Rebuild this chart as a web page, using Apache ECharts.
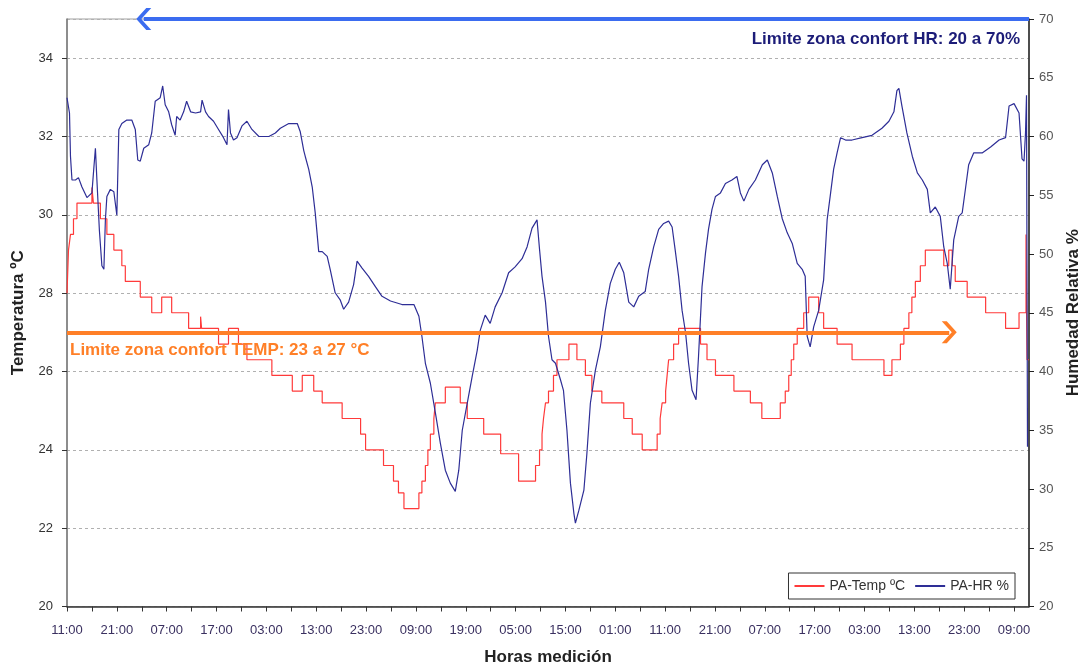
<!DOCTYPE html>
<html>
<head>
<meta charset="utf-8">
<title>PA - Temperatura y Humedad</title>
<script src="https://cdn.jsdelivr.net/npm/echarts@6/dist/echarts.min.js"></script>
<style>
  html, body { margin: 0; padding: 0; background: #fff; }
  #chart { width: 1082px; height: 666px; }
</style>
</head>
<body>
<div id="chart"></div>
<script>
// Hours elapsed since the first reading (11:00); a label every 10 h
const xLabels = ['11:00','21:00','07:00','17:00','03:00','13:00','23:00','09:00','19:00','05:00',
                 '15:00','01:00','11:00','21:00','07:00','17:00','03:00','13:00','23:00','09:00'];
const hoursTotal = 193;

// Temperature (ºC): logger steps, each value holds until the next change
const tempHours = [0,0.3,0.7,1.3,2,5,5.3,6.7,8,9.4,11,11.7,14.7,17,19,21,24.4,26.8,27,30.4,32.4,34.4,36.1,41.1,45.2,
  47.2,49.5,51.2,55.2,58.9,59.9,63.5,65.5,66.5,67.6,70.6,71.2,71.9,72.4,72.9,73.6,73.9,75.9,78.9,80.3,83.6,87,90.6,
  94,94.8,95.3,95.6,96,96.6,97.6,98.3,100.7,102.3,104,105.3,107.3,111.7,113.4,115.4,118.4,119,119.4,120.1,120.4,120.7,
  121.7,122.7,127.1,128.4,130.1,133.8,137.1,139.4,143.1,144.1,144.8,145.3,145.8,146.5,147.8,148.8,150.8,151.8,154.5,
  157.5,163.9,165.5,167.2,167.9,168.9,169.5,170.2,171.2,172.2,175.9,176.9,177.6,178.2,180.6,184.3,188.3,191,192.4,192.6,193];
const tempValues = [28.0,29.1,29.5,29.9,30.3,30.7,30.3,29.9,29.5,29.1,28.7,28.3,27.9,27.5,27.9,27.5,27.1,27.4,27.1,26.7,27.1,26.7,26.3,25.9,25.5,
  25.9,25.5,25.2,24.8,24.4,24.0,23.6,23.2,22.9,22.5,22.9,23.2,23.6,24.0,24.4,24.8,25.2,25.6,25.2,24.8,24.4,23.9,23.2,
  23.6,24.0,24.4,24.8,25.2,25.5,25.9,26.3,26.7,26.3,25.9,25.5,25.2,24.8,24.4,24.0,24.4,24.8,25.2,25.5,25.9,26.3,
  26.7,27.1,26.7,26.3,25.9,25.5,25.2,24.8,25.2,25.5,25.9,26.3,26.7,27.1,27.5,27.9,27.5,27.1,26.7,
  26.3,25.9,26.3,26.7,27.1,27.5,27.9,28.3,28.7,29.1,28.7,29.1,28.7,28.3,27.9,27.5,27.1,27.5,29.5,26.3,26.3];

// Relative humidity (%)
const hrHours = [0,0.5,0.7,1,1.7,2.3,3,4,5,5.4,5.7,6,6.5,7,7.4,7.7,8,8.7,9.4,9.7,10,10.4,11,12,13,13.7,14.2,14.7,15.4,16.4,
  17,17.7,18.7,19.2,19.7,20.4,21,21.7,22,22.7,23.4,24,24.8,25.8,26.8,27.1,27.8,28.4,29.4,30.4,31.4,32.1,32.4,32.8,33.4,
  34.1,35.1,36.1,37.1,38.5,40.5,41.8,42.8,44.5,46.2,46.8,47.5,47.8,48.5,49.2,49.8,50.5,51.2,52.2,52.8,53.8,54.8,55.5,
  56.5,57.5,58.2,59.2,60.5,61.9,63.2,64.9,67.2,69.6,70.6,71.2,71.9,72.9,73.9,74.9,75.9,76.9,77.9,78.6,79.3,80.3,81.3,
  82.3,82.9,83.9,84.9,85.9,87.3,88.6,89.9,91.3,92.3,93.3,94.3,94.8,95.3,96,96.6,97.3,98,99,99.6,100.3,101,101.7,102,
  102.7,103.7,104.3,105,106,107,108,109,110,110.8,111.7,112.7,113.7,114.7,116,116.7,117.7,118.7,119.7,120.7,121.4,122,
  122.7,123.4,124.1,124.7,125.4,126.2,126.7,127.4,128.1,128.7,129.4,130.1,131.1,132.1,133.4,134.4,135.1,135.8,136.8,
  138.1,139.5,140.5,141.5,142.5,143.5,144.5,145.5,146.5,147.5,148.1,148.5,149.1,149.8,150.8,151.8,152.5,153.2,153.8,
  154.5,155.2,156.2,157.5,159.5,161.5,163.5,164.9,165.9,166.5,166.9,167.5,168.5,169.6,170.6,171.6,172.6,173.2,174.2,
  175.2,175.9,176.6,177.2,177.9,178.9,179.6,180.3,180.9,181.9,183.6,185.3,187,188.3,189,190,191,191.6,192,192.3,192.5,192.7];
const hrValues = [63.3,62,58.3,56.3,56.3,56.5,55.7,54.8,55.2,57.4,59,56.3,52,49,48.7,52.9,54.9,55.5,55.3,54.3,53.3,60.6,61.1,61.4,61.4,60.6,58,57.9,59,59.3,
  60.3,63,63.3,64.3,62.7,62.1,61,60.1,61.7,61.4,62.1,63,62.1,62,62.1,63.1,62.1,61.7,61.3,60.6,59.9,59.3,62.3,60.3,59.7,
  59.9,60.9,61.3,60.6,60,60,60.3,60.7,61.1,61.1,60.4,58.8,58.3,57.2,55.7,53.5,50.2,50.2,49.8,48.7,46.7,46.1,45.3,
  45.9,47.4,49.4,48.8,48.1,47.2,46.4,46,45.7,45.7,44.7,43,40.7,39,36.5,33.9,31.6,30.5,29.8,31.6,35,37.3,39.6,
  41.8,43.5,44.8,44.1,45.5,46.7,48.4,48.9,49.6,50.6,52.2,52.9,50.4,48.1,45.9,43,41,40.7,39.3,38.4,35,30.5,27.9,27.1,
  28.2,29.9,33,37.3,40.1,42.1,45.2,47.5,48.7,49.3,48.4,45.9,45.5,46.4,46.8,48.7,50.6,52.1,52.6,52.8,52.3,50.4,
  48.1,45.2,43.3,40.7,38.4,37.6,41.3,47.2,50.1,52.1,53.8,54.9,55.2,56,56.3,56.6,55.2,54.5,55.5,
  56.3,57.6,58,56.9,54.9,53,51.8,50.9,49.2,48.7,48.1,43,42.1,43.8,45.2,47.8,52.9,55.2,57.2,
  58.6,59.9,59.7,59.7,59.9,60.1,60.7,61.3,62.1,63.9,64.1,62.6,60.3,58.3,56.9,56.3,55.5,53.5,54,
  53.2,50.6,49.2,47,51.2,53.2,53.5,55.7,57.6,58.6,58.6,59.1,59.7,59.9,62.6,62.8,62,58.1,57.9,60.3,63.5,33.6];

// Comfort limits and the span of each limit arrow (hours)
const hrComfortMax = 70;
const tempComfortMax = 27;
const hrArrowSpan = [15.4, 193];
const tempArrowSpan = [0, 177];

const zip = (xs, ys) => xs.map((x, i) => [x, ys[i]]);
// open arrow head, tip at the top of the path
const chevron = 'path://M11,0 L22,10 L22,15 L11,5 L0,15 L0,10 Z';
const font = 'Arial, "Liberation Sans", sans-serif';

const chart = echarts.init(document.getElementById('chart'), null, { renderer: 'canvas' });
chart.setOption({
  animation: false,
  backgroundColor: '#ffffff',
  textStyle: { fontFamily: font },
  grid: {
    left: 67, right: 53, top: 19, bottom: 59.5, outerBoundsMode: 'none', containLabel: false,
    show: true, borderColor: '#a0a0a0', borderWidth: 1
  },
  legend: {
    right: 67, top: 573,
    backgroundColor: '#fff', borderColor: '#333', borderWidth: 1,
    padding: [6, 6], itemWidth: 30, itemHeight: 2, itemGap: 10, icon: 'rect',
    textStyle: { fontSize: 14, color: '#333', fontFamily: font },
    data: ['PA-Temp ºC', 'PA-HR %']
  },
  xAxis: {
    type: 'value', min: 0, max: hoursTotal, interval: 5,
    name: 'Horas medición', nameLocation: 'middle', nameGap: 42,
    nameTextStyle: { fontSize: 17, fontWeight: 'bold', color: '#222', fontFamily: font },
    axisLine: { lineStyle: { color: '#333', width: 1.5 } },
    axisTick: { length: 5, lineStyle: { color: '#333' } },
    axisLabel: {
      fontSize: 13, color: '#3a3060', margin: 17, showMaxLabel: false,
      formatter: v => (v % 10 === 0 ? xLabels[v / 10] : '')
    },
    splitLine: { show: false }
  },
  yAxis: [
    {
      type: 'value', min: 20, max: 35, interval: 2,
      name: 'Temperatura ºC', nameLocation: 'middle', nameGap: 40, nameRotate: 90,
      nameTextStyle: { fontSize: 17, fontWeight: 'bold', color: '#222', fontFamily: font },
      axisLine: { show: true, lineStyle: { color: '#777', width: 1.5 } },
      axisTick: { show: true, length: 5, lineStyle: { color: '#333' } },
      axisLabel: { fontSize: 13, color: '#333', margin: 14, showMaxLabel: false },
      splitLine: { show: true, lineStyle: { color: '#b0b0b0', type: [3, 3], width: 1 } }
    },
    {
      type: 'value', min: 20, max: 70, interval: 5, position: 'right',
      name: 'Humedad Relativa %', nameLocation: 'middle', nameGap: 34, nameRotate: 90,
      nameTextStyle: { fontSize: 17, fontWeight: 'bold', color: '#222', fontFamily: font },
      axisLine: { show: true, lineStyle: { color: '#222', width: 1.5 } },
      axisTick: { show: true, length: 5, lineStyle: { color: '#222' } },
      axisLabel: { fontSize: 13, color: '#555', margin: 10 },
      splitLine: { show: false }
    }
  ],
  series: [
    {
      name: 'PA-Temp ºC', type: 'line', yAxisIndex: 0, step: 'end',
      data: zip(tempHours, tempValues),
      showSymbol: false, symbol: 'none',
      lineStyle: { color: '#ff3a3a', width: 1.2 },
      itemStyle: { color: '#ff3a3a' },
      z: 3,
      markLine: {
        silent: true, animation: false,
        symbol: ['none', chevron], symbolSize: [22, 15],
        lineStyle: { color: '#ff7f27', width: 4, type: 'solid' },
        label: {
          show: true, position: 'insideStartBottom', distance: [3, 9],
          formatter: 'Limite zona confort TEMP: 23 a 27 °C',
          color: '#ff7f27', fontWeight: 'bold', fontSize: 17, fontFamily: font
        },
        emphasis: { disabled: true },
        data: [[{ coord: [tempArrowSpan[0], tempComfortMax] }, { coord: [tempArrowSpan[1], tempComfortMax] }]]
      }
    },
    {
      name: 'PA-HR %', type: 'line', yAxisIndex: 1,
      data: zip(hrHours, hrValues),
      showSymbol: false, symbol: 'none',
      lineStyle: { color: '#2e2e96', width: 1.2 },
      itemStyle: { color: '#2e2e96' },
      z: 4,
      markLine: {
        silent: true, animation: false,
        symbol: [chevron, 'none'], symbolSize: [22, 15],
        lineStyle: { color: '#3b6cf0', width: 4, type: 'solid' },
        label: {
          show: true, position: 'insideEndBottom', distance: [9, 12],
          formatter: 'Limite zona confort HR: 20 a 70%',
          color: '#1c1c78', fontWeight: 'bold', fontSize: 17, fontFamily: font
        },
        emphasis: { disabled: true },
        data: [[{ coord: [hrArrowSpan[0], hrComfortMax] }, { coord: [hrArrowSpan[1], hrComfortMax] }]]
      }
    }
  ]
});
</script>
</body>
</html>
